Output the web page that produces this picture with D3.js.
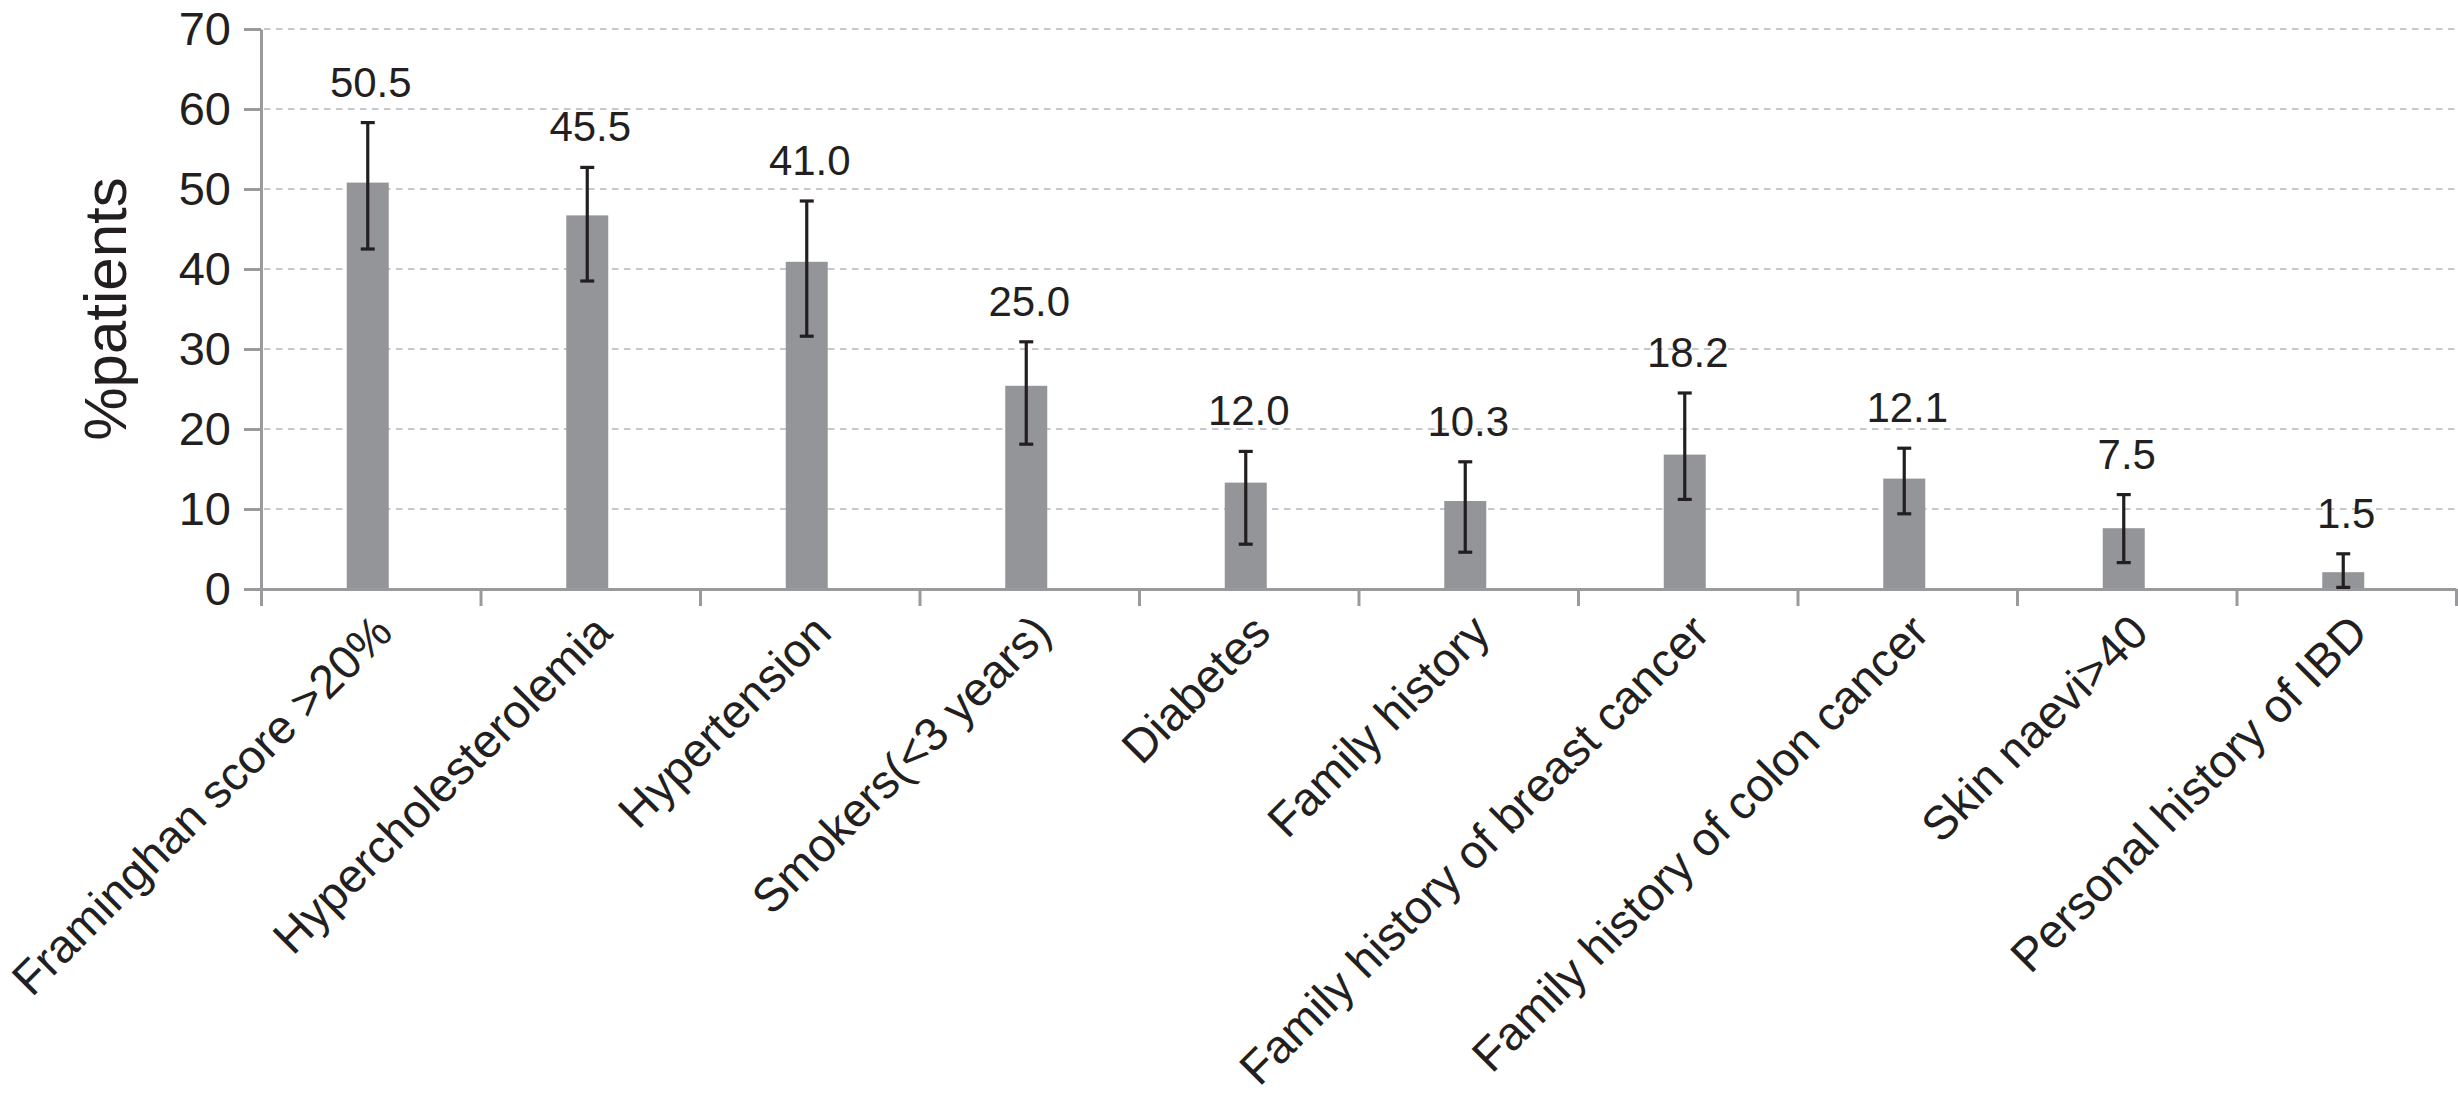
<!DOCTYPE html>
<html>
<head>
<meta charset="utf-8">
<script src="https://cdn.jsdelivr.net/npm/d3@7"></script>
<style>
    html, body { margin: 0; padding: 0; background: #fff; }
    svg { display: block; font-family: "Liberation Sans", Arial, Helvetica, sans-serif; }
    .axis path, .axis line { stroke: #9a9a9c; stroke-width: 3; }
    .grid line { stroke: #c6c7c9; stroke-width: 2; stroke-dasharray: 6.5 5.5; }
    .bar { fill: #939598; }
    .err { stroke: #231f20; stroke-width: 3.2; fill: none; }
</style>
</head>
<body>
<script>
// risk factors, % patients (bar tops and CI ends)
const categories = [
    "Framinghan score >20%",
    "Hypercholesterolemia",
    "Hypertension",
    "Smokers(<3 years)",
    "Diabetes",
    "Family history",
    "Family history of breast cancer",
    "Family history of colon cancer",
    "Skin naevi>40",
    "Personal history of IBD"
];
const values = [50.8, 46.7, 40.9, 25.4, 13.3, 11.0, 16.8, 13.8, 7.6, 2.1];
const errLow = [42.5, 38.5, 31.6, 18.1, 5.6, 4.6, 11.2, 9.4, 3.3, 0.2];
const errHigh = [58.3, 52.7, 48.5, 30.9, 17.2, 15.9, 24.5, 17.6, 11.8, 4.4];
const valueLabels = ["50.5", "45.5", "41.0", "25.0", "12.0", "10.3", "18.2", "12.1", "7.5", "1.5"];
const yTicks = [0, 10, 20, 30, 40, 50, 60, 70];
const yTitle = "%patients";

const W = 2458, H = 1107;
const margin = { top: 29, right: 2, bottom: 518, left: 261 };
const width = W - margin.left - margin.right,
      height = H - margin.top - margin.bottom;

const data = categories.map((c, i) => ({
    cat: c, value: values[i], lo: errLow[i], hi: errHigh[i], label: valueLabels[i]
}));

const x = d3.scaleBand().domain(categories).range([0, width]);
const xEdge = d3.scaleLinear().domain([0, categories.length]).range([0, width]); // tick marks sit between bars
const y = d3.scaleLinear().domain([0, 70]).range([height, 0]);

const barW = 42, capW = 14;

const svg = d3.select('body').append('svg')
    .attr('width', W)
    .attr('height', H);

const g = svg.append('g')
    .attr('transform', `translate(${margin.left}, ${margin.top})`);

// dashed gridlines
g.append('g').attr('class', 'grid')
    .selectAll('line')
    .data(yTicks.filter(d => d > 0))
    .enter().append('line')
    .attr('x1', 3)
    .attr('x2', width)
    .attr('y1', d => y(d))
    .attr('y2', d => y(d));

// bars
g.selectAll('rect.bar')
    .data(data)
    .enter().append('rect')
    .attr('class', 'bar')
    .attr('x', d => x(d.cat) + x.bandwidth() / 2 - barW / 2 - 3)
    .attr('width', barW)
    .attr('y', d => y(d.value))
    .attr('height', d => y(0) - y(d.value));

// axes
g.append('g')
    .attr('class', 'x axis')
    .attr('transform', `translate(0, ${height})`)
    .call(d3.axisBottom(xEdge)
        .tickValues(d3.range(categories.length + 1))
        .tickFormat('')
        .tickSizeInner(17)
        .tickSizeOuter(0));

const yAxis = g.append('g')
    .attr('class', 'y axis')
    .call(d3.axisLeft(y)
        .tickValues(yTicks)
        .tickSizeInner(17)
        .tickSizeOuter(0)
        .tickPadding(13));

yAxis.selectAll('text')
    .attr('fill', '#231f20')
    .style('font-size', '47px');

// error bars
const err = g.selectAll('g.errbar')
    .data(data)
    .enter().append('g')
    .attr('class', 'errbar')
    .attr('transform', d => `translate(${x(d.cat) + x.bandwidth() / 2 - 3}, 0)`);

err.append('line').attr('class', 'err')
    .attr('y1', d => y(d.lo)).attr('y2', d => y(d.hi));
err.append('line').attr('class', 'err')
    .attr('x1', -capW / 2).attr('x2', capW / 2)
    .attr('y1', d => y(d.hi)).attr('y2', d => y(d.hi));
err.append('line').attr('class', 'err')
    .attr('x1', -capW / 2).attr('x2', capW / 2)
    .attr('y1', d => y(d.lo)).attr('y2', d => y(d.lo));

// value labels above the error bars
g.selectAll('text.vlabel')
    .data(data)
    .enter().append('text')
    .attr('class', 'vlabel')
    .attr('x', d => x(d.cat) + x.bandwidth() / 2)
    .attr('y', d => y(d.hi) - 26)
    .attr('text-anchor', 'middle')
    .attr('fill', '#231f20')
    .style('font-size', '42px')
    .text(d => d.label);

// rotated category labels
g.selectAll('text.catlabel')
    .data(data)
    .enter().append('text')
    .attr('class', 'catlabel')
    .attr('text-anchor', 'end')
    .attr('transform', d => `translate(${x(d.cat) + x.bandwidth() / 2 + 24}, ${height + 46}) rotate(-45)`)
    .attr('fill', '#231f20')
    .style('font-size', '47px')
    .text(d => d.cat);

// y axis title
svg.append('text')
    .attr('transform', `translate(126, ${margin.top + height / 2}) rotate(-90)`)
    .attr('text-anchor', 'middle')
    .attr('fill', '#231f20')
    .style('font-size', '60px')
    .text(yTitle);
</script>
</body>
</html>
